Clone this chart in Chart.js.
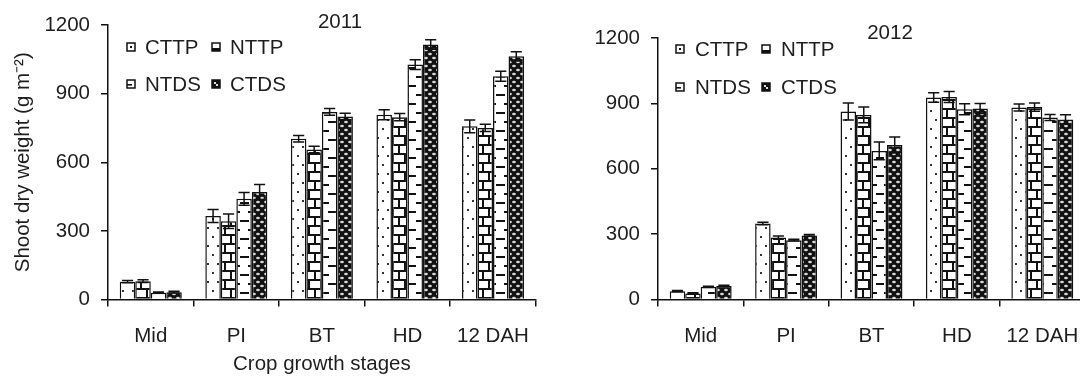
<!DOCTYPE html>
<html><head><meta charset="utf-8">
<script src="https://cdn.jsdelivr.net/npm/chart.js@4.4.1/dist/chart.umd.min.js"></script>
<style>
html,body{margin:0;padding:0;background:#fff;overflow:hidden;width:1080px;height:376px;position:relative;}
#wrapL{position:absolute;left:0;top:0;width:548px;height:376px;}
#wrapR{position:absolute;left:548px;top:0;width:552px;height:376px;}
canvas{display:block;}
</style></head><body>
<div id="wrapL"><canvas id="c2011" width="548" height="376"></canvas></div>
<div id="wrapR"><canvas id="c2012" width="552" height="376"></canvas></div>
<script>
// ---------- data ----------
const categories = ['Mid', 'PI', 'BT', 'HD', '12 DAH'];
const seriesNames = ['CTTP', 'NTTP', 'NTDS', 'CTDS'];
const yTickValues = [0, 300, 600, 900, 1200];
const yearTitles = ['2011', '2012'];
const yAxisTitle = 'Shoot dry weight (g m\u207B\u00B2)';
const xAxisTitle = 'Crop growth stages';

// 2011 means
const cttp2011 = [78, 365, 703, 808, 757];
const nttp2011 = [80, 342, 656, 797, 750];
const ntds2011 = [30, 440, 820, 1027, 976];
const ctds2011 = [32, 470, 800, 1115, 1063];
// 2011 errors (±)
const cttp2011Err = [5, 28, 14, 22, 28];
const nttp2011Err = [6, 32, 14, 16, 16];
const ntds2011Err = [3, 28, 15, 21, 22];
const ctds2011Err = [4, 33, 14, 21, 20];

// 2012 means
const cttp2012 = [38, 349, 863, 927, 881];
const nttp2012 = [28, 284, 847, 929, 883];
const ntds2012 = [58, 272, 682, 873, 835];
const ctds2012 = [62, 294, 709, 876, 826];
// 2012 errors (±)
const cttp2012Err = [3, 6, 39, 22, 16];
const nttp2012Err = [3, 7, 36, 25, 19];
const ntds2012Err = [3, 4, 41, 25, 14];
const ctds2012Err = [3, 4, 37, 23, 22];

// ---------- styling ----------
const FONT = '"Liberation Sans", Arial, Helvetica, sans-serif';
const FS = 20.5;
const TXT = '#1e1e1e';
Chart.defaults.font.family = FONT;
Chart.defaults.font.size = FS;
Chart.defaults.color = TXT;

function tile(w, h, draw) {
  const c = document.createElement('canvas');
  c.width = w; c.height = h;
  const g = c.getContext('2d');
  draw(g, w, h);
  return document.createElement('canvas').getContext('2d').createPattern(c, 'repeat');
}
const patterns = [
  // CTTP: white with sparse dots
  tile(10, 18, (g, w, h) => { g.fillStyle = '#fff'; g.fillRect(0, 0, w, h); g.fillStyle = '#333';
    g.fillRect(2, 2, 2, 2); g.fillRect(7, 11, 2, 2); }),
  // NTTP: brick
  tile(12, 18, (g, w, h) => { g.fillStyle = '#fff'; g.fillRect(0, 0, w, h); g.fillStyle = '#111';
    g.fillRect(0, 0, w, 2); g.fillRect(0, 9, w, 2); g.fillRect(2, 0, 2, 9); g.fillRect(8, 9, 2, 9); }),
  // NTDS: staggered horizontal dashes
  tile(16, 18, (g, w, h) => { g.fillStyle = '#fff'; g.fillRect(0, 0, w, h); g.fillStyle = '#111';
    g.fillRect(0, 4, 9, 2); g.fillRect(8, 13, 8, 2); }),
  // CTDS: black with light ovals
  tile(8, 8, (g, w, h) => { g.fillStyle = '#111'; g.fillRect(0, 0, w, h); g.fillStyle = '#d8d8d8';
    g.beginPath(); g.ellipse(2, 2, 1.9, 1.2, 0, 0, Math.PI * 2); g.fill();
    g.beginPath(); g.ellipse(6, 6, 1.9, 1.2, 0, 0, Math.PI * 2); g.fill(); })
];

// ---------- plugins ----------
const errorBars = {
  id: 'errorBars',
  afterDatasetsDraw(chart, args, opts) {
    const ctx = chart.ctx, ys = chart.scales.y;
    ctx.save();
    ctx.strokeStyle = '#111';
    ctx.lineWidth = 1.5;
    chart.data.datasets.forEach((ds, i) => {
      const meta = chart.getDatasetMeta(i);
      meta.data.forEach((el, j) => {
        const v = ds.data[j], e = ds.errors[j];
        const yt = ys.getPixelForValue(v + e), yb = ys.getPixelForValue(v - e);
        const hw = el.width * 0.36;
        ctx.beginPath();
        ctx.moveTo(el.x, yt); ctx.lineTo(el.x, yb);
        ctx.moveTo(el.x - hw, yt); ctx.lineTo(el.x + hw, yt);
        ctx.moveTo(el.x - hw, yb); ctx.lineTo(el.x + hw, yb);
        ctx.stroke();
      });
    });
    ctx.restore();
  }
};

function drawIcon(ctx, idx, x, y, s) {
  ctx.save();
  if (idx === 3) { ctx.fillStyle = '#111'; ctx.fillRect(x, y, s, s);
    ctx.fillStyle = '#ddd'; ctx.fillRect(x + 2, y + 2, 2, 2); ctx.fillRect(x + s - 4, y + s - 4, 2, 2); }
  else { ctx.fillStyle = '#fff'; ctx.fillRect(x, y, s, s); ctx.fillStyle = '#111';
    if (idx === 0) ctx.fillRect(x + s / 2 - 1, y + s / 2 - 1, 2, 2);
    if (idx === 1) ctx.fillRect(x, y + s - 3, s, 3);
    if (idx === 2) ctx.fillRect(x, y + s / 2, s / 2 + 1, 1.6);
  }
  ctx.strokeStyle = '#111'; ctx.lineWidth = 1.5;
  ctx.strokeRect(x, y, s, s);
  ctx.restore();
}

const gridLegend = {
  id: 'gridLegend',
  afterDraw(chart, args, o) {
    const ctx = chart.ctx;
    ctx.save();
    ctx.font = FS + 'px ' + FONT;
    ctx.textAlign = 'left';
    ctx.textBaseline = 'middle';
    chart.data.datasets.forEach((ds, i) => {
      const col = i % 2, row = Math.floor(i / 2);
      const bx = o.x + col * o.colGap, by = o.y + row * o.rowGap;
      drawIcon(ctx, i, bx, by, o.box);
      ctx.fillStyle = TXT;
      ctx.fillText(ds.label, bx + o.textOffset, by + o.box / 2 + 1.5);
    });
    ctx.restore();
  }
};

const yearTitle = {
  id: 'yearTitle',
  afterDraw(chart, args, o) {
    const ctx = chart.ctx;
    ctx.save();
    ctx.font = FS + 'px ' + FONT;
    ctx.fillStyle = TXT;
    ctx.textAlign = 'center';
    ctx.textBaseline = 'middle';
    ctx.fillText(o.text, o.x, o.y);
    ctx.restore();
  }
};

function makeChart(id, series, errs, cfg) {
  const datasets = seriesNames.map((name, i) => ({
    label: name,
    data: series[i],
    errors: errs[i],
    backgroundColor: patterns[i],
    borderColor: '#111',
    borderWidth: 1.5,
    categoryPercentage: 0.725,
    barPercentage: 1.0
  }));
  return new Chart(document.getElementById(id), {
    type: 'bar',
    data: { labels: categories, datasets },
    plugins: [errorBars, gridLegend, yearTitle],
    options: {
      responsive: false,
      animation: false,
      events: [],
      devicePixelRatio: 1,
      layout: { padding: cfg.padding },
      plugins: {
        legend: { display: false },
        tooltip: { enabled: false },
        gridLegend: cfg.legend,
        yearTitle: cfg.title
      },
      scales: {
        x: {
          grid: { display: true, drawOnChartArea: false, drawTicks: true, tickLength: 7, color: '#111', lineWidth: 1.5, offset: true },
          border: { display: true, color: '#111', width: 1.5 },
          ticks: { color: TXT, font: { size: FS }, padding: 18, maxRotation: 0, autoSkip: false },
          title: cfg.xTitle ? { display: true, text: xAxisTitle, color: TXT, font: { size: FS }, padding: { top: 0, bottom: -1 } } : { display: false },
          afterFit: (s) => { s.height = cfg.xHeight; }
        },
        y: {
          min: 0, max: 1200,
          afterBuildTicks: (s) => { s.ticks = yTickValues.map(v => ({ value: v })); },
          grid: { display: true, drawOnChartArea: false, drawTicks: true, tickLength: 7, color: '#111', lineWidth: 1.5 },
          border: { display: true, color: '#111', width: 1.5 },
          ticks: { color: TXT, font: { size: FS }, padding: 11, callback: (v) => String(v) },
          title: cfg.yTitle ? { display: true, text: yAxisTitle, color: TXT, font: { size: FS }, padding: { top: 11, bottom: 0 } } : { display: false },
          afterFit: (s) => { s.width = cfg.yWidth; }
        }
      }
    }
  });
}

makeChart('c2011',
  [cttp2011, nttp2011, ntds2011, ctds2011],
  [cttp2011Err, nttp2011Err, ntds2011Err, ctds2011Err],
  { padding: { top: 25, right: 11, bottom: 0, left: 0 }, xHeight: 76.5, yWidth: 108, xTitle: true, yTitle: true,
    legend: { x: 127, y: 43, colGap: 85, rowGap: 37, box: 8, textOffset: 18 },
    title: { text: yearTitles[0], x: 340, y: 22 } });

makeChart('c2012',
  [cttp2012, nttp2012, ntds2012, ctds2012],
  [cttp2012Err, nttp2012Err, ntds2012Err, ctds2012Err],
  { padding: { top: 38, right: 15, bottom: 0, left: 0 }, xHeight: 76.5, yWidth: 110, xTitle: false, yTitle: false,
    legend: { x: 128, y: 45, colGap: 86, rowGap: 38, box: 8, textOffset: 19 },
    title: { text: yearTitles[1], x: 342, y: 33 } });
</script>
</body></html>
